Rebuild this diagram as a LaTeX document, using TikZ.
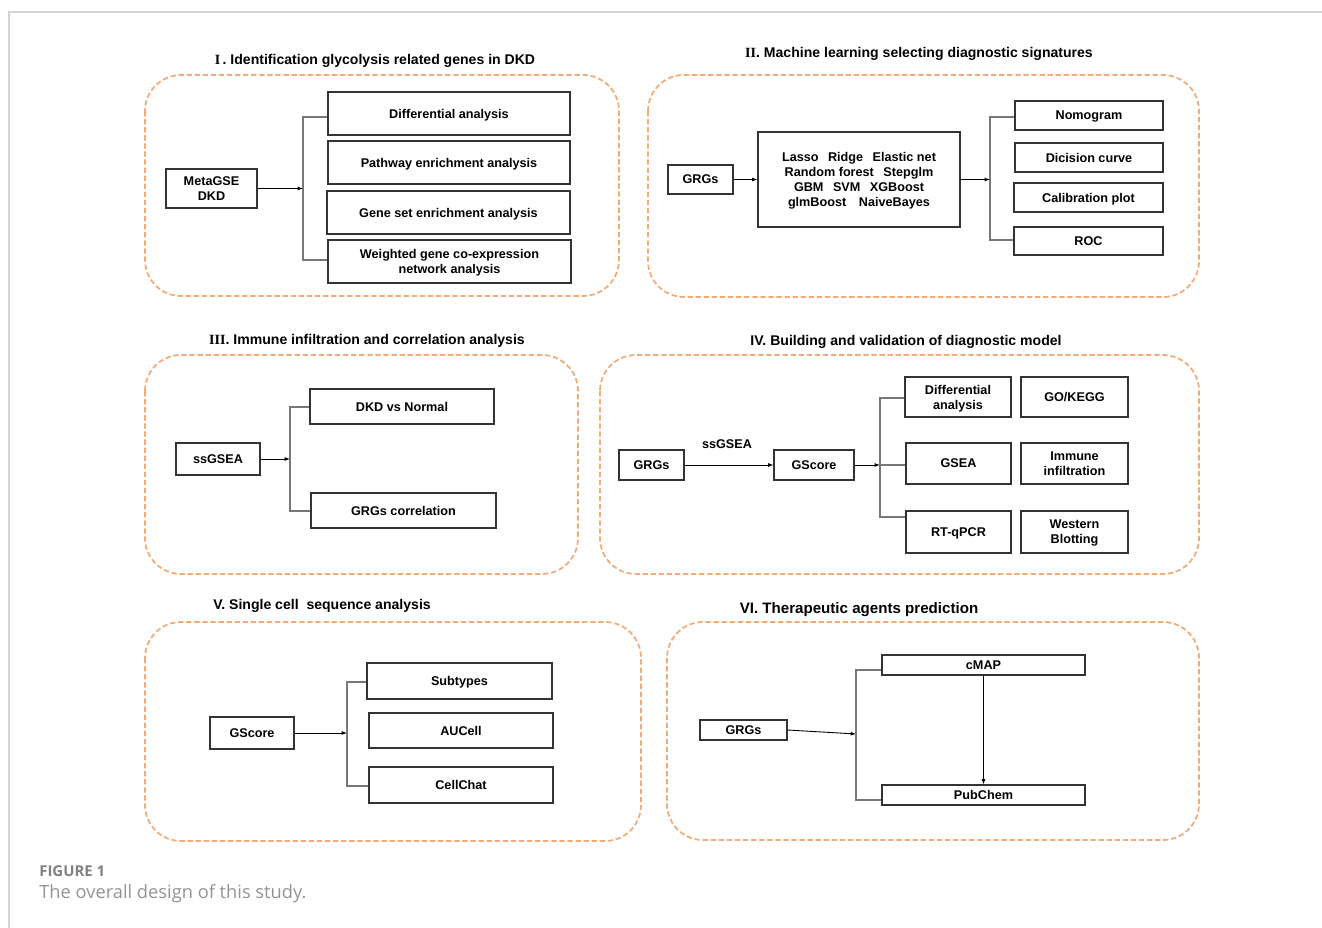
\documentclass[tikz,border=0pt]{standalone}
\usepackage{fontspec}
\setmainfont{Liberation Sans}
\newfontfamily\capfont{Open Sans}
\newfontfamily\numfont{Liberation Serif}
\usetikzlibrary{arrows.meta}
\definecolor{grporange}{RGB}{243,170,120}
\definecolor{busgray}{RGB}{120,120,120}
\definecolor{framegray}{RGB}{212,212,212}
\definecolor{capgray}{RGB}{128,128,128}

\begin{document}
\begin{tikzpicture}[x=0.02cm,y=-0.02cm,
  grp/.style={grporange,line width=1pt,dash pattern=on 3pt off 1.6pt,rounded corners=0.72cm},
  box/.style={draw=black!80,line width=0.6pt,inner sep=1pt,text depth=0pt,align=center,font=\bfseries\fontsize{7.2}{8.5}\selectfont},
  sz/.style 2 args={minimum width=#1*0.02cm,minimum height=#2*0.02cm},
  ttl/.style={inner sep=0pt,font=\bfseries\fontsize{8}{9.6}\selectfont},
  bus/.style={busgray,line width=0.9pt},
  arr/.style={-{Latex[length=3pt,width=2.2pt]},line width=0.5pt}]
  \useasboundingbox (0,0) rectangle (1322,928);
  \draw[framegray,line width=0.6pt] (9,928) -- (9,12) -- (1322,12);

  % I. glycolysis related genes
  \node[ttl] (t1) at (375,61) {{\numfont I}\,. Identification glycolysis related genes in DKD};
  \draw[grp] (145,75) rectangle (619,296);
  \node[box,sz={91}{39}] (meta) at (211.5,188.5) {MetaGSE\\DKD};
  \node[box,sz={242}{43}] (dif1) at (449,113.5) {Differential analysis};
  \node[box,sz={242}{43}] (path) at (449,162.5) {Pathway enrichment analysis};
  \node[box,sz={243}{43}] (gsea1) at (448.5,212.5) {Gene set enrichment analysis};
  \node[box,sz={243}{43}] (wgcna) at (449.5,261.5) {Weighted gene co-expression\\network analysis};
  \coordinate (b1t) at (303,117);
  \coordinate (b1b) at (303,260);
  \draw[bus] (b1t -| dif1.west) -- (b1t) -- (b1b) -- (b1b -| wgcna.west);
  \draw[arr] (meta.east) -- (meta.east -| b1t);

  % II. machine learning
  \node[ttl] (t2) at (919,54) {{\numfont II}. Machine learning selecting diagnostic signatures};
  \draw[grp] (648,75) rectangle (1199,297);
  \node[box,sz={65}{29}] (grgs2) at (700.5,179.5) {GRGs};
  \node[box,sz={202}{95}] (ml) at (859,179.5) {Lasso\hspace{0.75em}Ridge\hspace{0.75em}Elastic net\\
    Random forest\hspace{0.75em}Stepglm\\GBM\hspace{0.75em}SVM\hspace{0.75em}XGBoost\\glmBoost\hspace{1em}NaiveBayes};
  \node[box,sz={148}{29}] (nomo) at (1089,115.5) {Nomogram};
  \node[box,sz={148}{29}] (dca) at (1089,157.5) {Dicision curve};
  \node[box,sz={149}{29}] (cal) at (1088.5,197.5) {Calibration plot};
  \node[box,sz={149}{28}] (roc) at (1088.5,241) {ROC};
  \coordinate (b2t) at (990,117);
  \coordinate (b2b) at (990,240);
  \draw[bus] (b2t -| nomo.west) -- (b2t) -- (b2b) -- (b2b -| roc.west);
  \draw[arr] (grgs2.east) -- (ml.west);
  \draw[arr] (ml.east) -- (ml.east -| b2t);

  % III. immune infiltration
  \node[ttl] (t3) at (367,341) {{\numfont III}. Immune infiltration and correlation analysis};
  \draw[grp] (145,355) rectangle (578,574);
  \node[box,sz={84}{32}] (ssg) at (218,459) {ssGSEA};
  \node[box,sz={184}{35}] (dvn) at (402,406.5) {DKD vs Normal};
  \node[box,sz={185}{35}] (grc) at (403.5,510.5) {GRGs correlation};
  \coordinate (b3t) at (290,407);
  \coordinate (b3b) at (290,511);
  \draw[bus] (b3t -| dvn.west) -- (b3t) -- (b3b) -- (b3b -| grc.west);
  \draw[arr] (ssg.east) -- (ssg.east -| b3t);

  % IV. diagnostic model
  \node[ttl] (t4) at (906,342) {IV. Building and validation of diagnostic model};
  \draw[grp] (600,355) rectangle (1199,574);
  \node[box,sz={65}{30}] (grgs4) at (651.5,465) {GRGs};
  \node[box,sz={80}{30}] (gsc4) at (814,465) {GScore};
  \node[box,draw=none] (lbl4) at (727,444) {ssGSEA};
  \node[box,sz={106}{40}] (d4) at (958,397) {Differential\\analysis};
  \node[box,sz={107}{40}] (go) at (1074.5,397) {GO/KEGG};
  \node[box,sz={105}{41}] (gsea4) at (958.5,463.5) {GSEA};
  \node[box,sz={107}{41}] (imm) at (1074.5,463.5) {Immune\\infiltration};
  \node[box,sz={105}{42}] (rt) at (958.5,532) {RT-qPCR};
  \node[box,sz={107}{42}] (wb) at (1074.5,532) {Western\\Blotting};
  \coordinate (b4t) at (880,398);
  \coordinate (b4m) at (880,465);
  \coordinate (b4b) at (880,517);
  \draw[bus] (b4t -| d4.west) -- (b4t) -- (b4b) -- (b4b -| rt.west);
  \draw[bus] (b4m) -- (b4m -| gsea4.west);
  \draw[arr] (grgs4.east) -- (gsc4.west);
  \draw[arr] (gsc4.east) -- (b4m);

  % V. single cell
  \node[ttl] (t5) at (322,606) {V. Single cell\ \ sequence analysis};
  \draw[grp] (145,622) rectangle (641,841);
  \node[box,sz={84}{32}] (gsc5) at (252,733) {GScore};
  \node[box,sz={185}{36}] (sub) at (459.5,681) {Subtypes};
  \node[box,sz={184}{35}] (auc) at (461,730.5) {AUCell};
  \node[box,sz={184}{36}] (cch) at (461,785) {CellChat};
  \coordinate (b5t) at (347,682);
  \coordinate (b5b) at (347,786);
  \draw[bus] (b5t -| sub.west) -- (b5t) -- (b5b) -- (b5b -| cch.west);
  \draw[arr] (gsc5.east) -- (gsc5.east -| b5t);

  % VI. therapeutic agents
  \node[ttl,font=\bfseries\fontsize{8.6}{10}\selectfont] (t6) at (859,610) {VI. Therapeutic agents prediction};
  \draw[grp] (667,622) rectangle (1199,840);
  \node[box,sz={87}{20}] (grgs6) at (743.5,730) {GRGs};
  \node[box,sz={203}{20}] (cmap) at (983.5,665) {cMAP};
  \node[box,sz={203}{20}] (pub) at (983.5,795) {PubChem};
  \coordinate (b6t) at (856,670);
  \coordinate (b6m) at (856,734);
  \coordinate (b6b) at (856,800);
  \draw[bus] (b6t -| cmap.west) -- (b6t) -- (b6b) -- (b6b -| pub.west);
  \draw[arr] (grgs6.east) -- (b6m);
  \draw[arr] (cmap.south) -- (pub.north);

  % caption
  \node[anchor=west,inner sep=0pt,text=capgray,font=\capfont\bfseries\fontsize{8.5}{10}\selectfont] (fig) at (39,871) {FIGURE 1};
  \node[anchor=west,inner sep=0pt,text=capgray!85,font=\capfont\fontsize{10.4}{12}\selectfont] (cap) at (39,894) {The overall design of this study.};
\end{tikzpicture}
\end{document}
